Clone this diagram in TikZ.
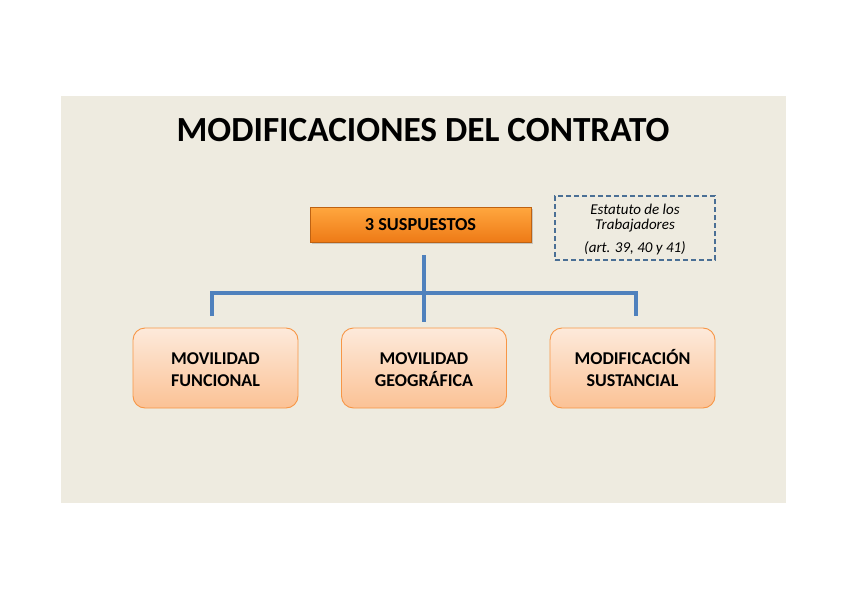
\documentclass[tikz,border=0pt]{standalone}
\usepackage{fontspec}
\setmainfont{Carlito}
\usetikzlibrary{shadows}
\definecolor{panel}{HTML}{EEEBE0}
\definecolor{linkblue}{HTML}{4F81BD}
\definecolor{dashblue}{HTML}{4A6F95}
\definecolor{orbord}{HTML}{F79646}
\definecolor{ortop}{HTML}{FFA73F}
\definecolor{orbot}{HTML}{EE7A16}
\definecolor{peachtop}{HTML}{FDEADB}
\definecolor{peachbot}{HTML}{FBC295}
\tikzset{
  x=1pt, y=-1pt,
  mainbox/.style={draw=orbot!80!black, line width=0.8pt, top color=ortop, bottom color=orbot,
    minimum width=221pt, minimum height=35pt, inner sep=0pt,
    font=\fontsize{18.3}{20}\selectfont\bfseries,
    drop shadow={shadow xshift=1.5pt, shadow yshift=-2pt, opacity=0.35}},
  leafbox/.style={draw=orbord, line width=0.9pt, rounded corners=12pt, top color=peachtop, bottom color=peachbot,
    minimum width=165pt, minimum height=80pt, inner sep=0pt, align=center,
    font=\fontsize{18}{22}\selectfont\bfseries},
  notebox/.style={draw=dashblue, dashed, dash pattern=on 5pt off 3pt, line width=1.3pt,
    minimum width=160pt, minimum height=64pt, inner sep=0pt},
  notetext/.style={font=\fontsize{15}{17}\selectfont\itshape},
  link/.style={draw=linkblue, line width=4pt}
}
\begin{document}
\begin{tikzpicture}
\useasboundingbox (0,0) rectangle (848,599);
\fill[white] (0,0) rectangle (848,599);
\fill[panel] (61,96) rectangle (786,503);
\node[font=\fontsize{35.3}{40}\selectfont\bfseries] (title) at (423,130) {MODIFICACIONES DEL CONTRATO};
\node[mainbox] (sup) at (420.5,224.5) {3 SUSPUESTOS};
\node[notebox] (note) at (635,228) {};
\node[notetext] (n1) at (635,209) {Estatuto de los};
\node[notetext] (n2) at (635,226) {Trabajadores};
\node[notetext] (n3) at (635,248) {(art. 39, 40 y 41)};
\node[leafbox] (b1) at (215.5,368) {\vphantom{Ó}MOVILIDAD\\FUNCIONAL};
\node[leafbox] (b2) at (424,368) {\vphantom{Ó}MOVILIDAD\\GEOGRÁFICA};
\node[leafbox] (b3) at (632.5,368) {MODIFICACIÓN\\SUSTANCIAL};
\coordinate (ctop) at (424,255);
\coordinate (cbot) at (424,322);
\coordinate (cl) at (212,293);
\coordinate (cr) at (636,293);
\coordinate (cld) at (212,316);
\coordinate (crd) at (636,316);
\draw[link] (ctop) -- (cbot);
\draw[link] (cld) -- (cl) -- (cr) -- (crd);
\end{tikzpicture}
\end{document}
